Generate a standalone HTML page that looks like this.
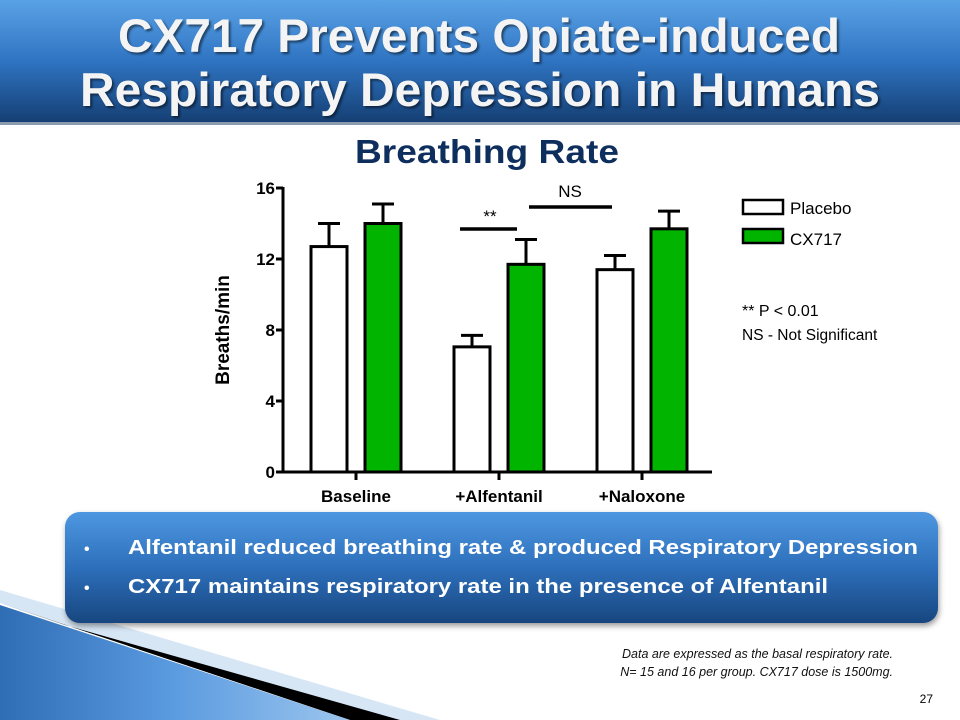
<!DOCTYPE html>
<html><head><meta charset="utf-8"><style>
html,body{margin:0;padding:0;background:#fff;}
svg{display:block;font-family:"Liberation Sans",Arial,sans-serif;}
</style></head><body>
<svg width="960" height="720" viewBox="0 0 960 720">
<defs>
<linearGradient id="hdr" x1="0" y1="0" x2="0" y2="1"><stop offset="0" stop-color="#5aa2e6"/><stop offset="0.5" stop-color="#2f74c2"/><stop offset="1" stop-color="#153f74"/></linearGradient>
<linearGradient id="box" x1="0" y1="0" x2="0" y2="1"><stop offset="0" stop-color="#4e97e0"/><stop offset="0.5" stop-color="#2d6fbb"/><stop offset="1" stop-color="#17467f"/></linearGradient>
<linearGradient id="dec" x1="0" y1="0" x2="1" y2="0"><stop offset="0" stop-color="#2f6db5"/><stop offset="0.5" stop-color="#5b9be0"/><stop offset="1" stop-color="#9cc5ee"/></linearGradient>
</defs>
<rect x="0" y="0" width="960" height="122" fill="url(#hdr)"/>
<rect x="0" y="122" width="960" height="3" fill="#8a9bb0"/>
<g fill="#f4f4f4" font-size="47" font-weight="bold" style="filter:drop-shadow(2px 2px 1px rgba(0,0,0,0.5))">
<text x="118" y="52" textLength="722" lengthAdjust="spacingAndGlyphs">CX717 Prevents Opiate-induced</text>
<text x="80" y="106" textLength="800" lengthAdjust="spacingAndGlyphs">Respiratory Depression in Humans</text>
</g>
<text x="355" y="163" font-size="33" font-weight="bold" fill="#0e2f5e" textLength="264" lengthAdjust="spacingAndGlyphs">Breathing Rate</text>

<g id="chart"></g>

<g>
<rect x="743" y="200" width="40" height="14" fill="#fff" stroke="#000" stroke-width="2.5"/>
<text x="790" y="214" font-size="17">Placebo</text>
<rect x="743" y="229" width="40" height="14" fill="#00b400" stroke="#000" stroke-width="2.5"/>
<text x="790" y="245" font-size="17">CX717</text>
</g>
<text x="742" y="316" font-size="16">** P &lt; 0.01</text>
<text x="742" y="340" font-size="15.5">NS - Not  Significant</text>

<polygon points="0,590 440,720 350,720 0,603" fill="#d7e6f5"/>
<polygon points="0,603 65,625 400,720 350,720" fill="#000"/>
<polygon points="0,605 350,720 0,720" fill="url(#dec)"/>

<rect x="65" y="512" width="873" height="111" rx="15" fill="url(#box)" style="filter:drop-shadow(1px 3px 3px rgba(0,0,0,0.4))"/>
<g fill="#fff" font-size="20" font-weight="bold">
<text x="84" y="554" font-size="16">•</text>
<text x="128" y="554" textLength="790" lengthAdjust="spacingAndGlyphs">Alfentanil reduced breathing rate &amp; produced Respiratory Depression</text>
<text x="84" y="593" font-size="16">•</text>
<text x="128" y="593" textLength="700" lengthAdjust="spacingAndGlyphs">CX717 maintains respiratory rate in the presence of Alfentanil</text>
</g>
<g font-size="12.5" font-style="italic" text-anchor="end" fill="#111">
<text x="893" y="658">Data are expressed as the basal respiratory rate.</text>
<text x="893" y="676">N= 15 and 16 per group. CX717 dose is 1500mg.</text>
</g>
<text x="933" y="703" font-size="12" text-anchor="end">27</text>
</svg>
<script>
const categories = ["Baseline", "+Alfentanil", "+Naloxone"];
const placeboValues = [12.7, 7.05, 11.4];
const placeboErrors = [1.3, 0.65, 0.8];
const cx717Values = [14.0, 11.7, 13.7];
const cx717Errors = [1.1, 1.4, 1.0];
const yTicks = [0, 4, 8, 12, 16];

const NS = "http://www.w3.org/2000/svg";
const g = document.getElementById("chart");
const y0 = 472, yTop = 188, yMax = 16;
const xLeft = 283, xRight = 712;
const y = v => y0 - (v / yMax) * (y0 - yTop);
const groupW = 143, firstCenter = 356;
const xc = i => firstCenter + i * groupW;
function mk(tag, attrs, parent) {
  const e = document.createElementNS(NS, tag);
  for (const k in attrs) e.setAttribute(k, attrs[k]);
  (parent || g).appendChild(e);
  return e;
}
const barW = 36;
function drawBar(i, v, err, offset, fill, name) {
  const cx = xc(i) + offset;
  const eb = mk("line", {x1: cx, x2: cx, y1: y(v), y2: y(v + err), stroke: "#000", "stroke-width": 3});
  
  
  const cap = mk("line", {x1: cx - 11, x2: cx + 11, y1: y(v + err), y2: y(v + err), stroke: "#000", "stroke-width": 3});
  
  
  const r = mk("rect", {x: cx - barW / 2, y: y(v), width: barW, height: y0 - y(v), fill: fill, stroke: "#000", "stroke-width": 3});
  
  
}
categories.forEach((c, i) => {
  drawBar(i, placeboValues[i], placeboErrors[i], -27, "#fff", "bar-placebo-" + i);
  drawBar(i, cx717Values[i], cx717Errors[i], 27, "#00b400", "bar-cx717-" + i);
  const t = mk("line", {x1: xc(i), x2: xc(i), y1: y0, y2: y0 + 8, stroke: "#000", "stroke-width": 3});
  
  
  const l = mk("text", {x: xc(i), y: y0 + 30, "text-anchor": "middle", "font-size": 17, "font-weight": "bold"});
  l.textContent = c;
  
  
});
const ax = mk("line", {x1: xLeft, x2: xLeft, y1: yTop - 1, y2: y0 + 1.5, stroke: "#000", "stroke-width": 3});


const xa = mk("line", {x1: xLeft - 1.5, x2: xRight, y1: y0, y2: y0, stroke: "#000", "stroke-width": 3});


yTicks.forEach(v => {
  const t = mk("line", {x1: xLeft - 7, x2: xLeft, y1: y(v), y2: y(v), stroke: "#000", "stroke-width": 3});
  
  
  const l = mk("text", {x: xLeft - 8, y: y(v) + 6, "text-anchor": "end", "font-size": 17, "font-weight": "bold"});
  l.textContent = v;
  
  
});
const yl = mk("text", {x: 0, y: 0, transform: "translate(229,330) rotate(-90)", "text-anchor": "middle", "font-size": 19, "font-weight": "bold"});
yl.textContent = "Breaths/min";


const s1 = mk("line", {x1: 460, x2: 517, y1: 229, y2: 229, stroke: "#000", "stroke-width": 3.5});


const s1t = mk("text", {x: 490, y: 222, "text-anchor": "middle", "font-size": 17});
s1t.textContent = "**";


const s2 = mk("line", {x1: 529, x2: 612, y1: 207, y2: 207, stroke: "#000", "stroke-width": 3.5});


const s2t = mk("text", {x: 570, y: 197, "text-anchor": "middle", "font-size": 17});
s2t.textContent = "NS";


</script>
</body></html>
